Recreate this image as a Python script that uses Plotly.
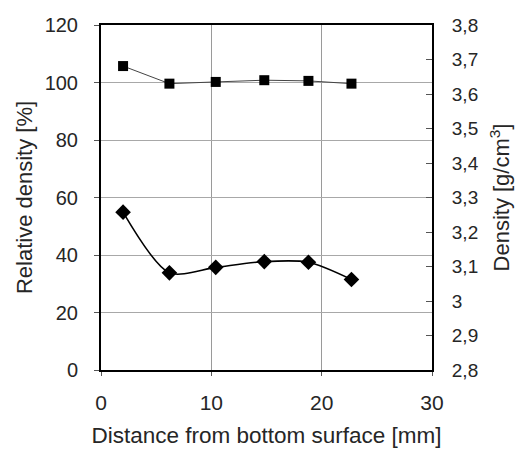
import plotly.graph_objects as go

# Data
distance_mm = [2, 6.2, 10.4, 14.8, 18.8, 22.7]
relative_density = [54.9, 33.8, 35.7, 37.7, 37.5, 31.5]
density_g_cm3 = [3.681, 3.630, 3.635, 3.640, 3.638, 3.630]

x_ticks = [0, 10, 20, 30]
left_ticks = [0, 20, 40, 60, 80, 100, 120]
right_tickvals = [2.8, 2.9, 3.0, 3.1, 3.2, 3.3, 3.4, 3.5, 3.6, 3.7, 3.8]
right_ticktext = ["2,8", "2,9", "3", "3,1", "3,2", "3,3", "3,4", "3,5", "3,6", "3,7", "3,8"]

FONT = "Liberation Sans, Arial, sans-serif"
TXT = "#262626"

fig = go.Figure()
fig.add_trace(go.Scatter(
    x=distance_mm, y=relative_density, mode="lines+markers",
    line=dict(color="black", width=1.6, shape="spline", smoothing=0.8),
    marker=dict(symbol="diamond", size=12, color="black"),
    yaxis="y", showlegend=False))
fig.add_trace(go.Scatter(
    x=distance_mm, y=density_g_cm3, mode="lines+markers",
    line=dict(color="#444444", width=1),
    marker=dict(symbol="square", size=10, color="black"),
    yaxis="y2", showlegend=False))

fig.update_layout(
    width=515, height=454,
    margin=dict(l=101, r=83, t=25, b=84, autoexpand=False),
    paper_bgcolor="white", plot_bgcolor="white",
    font=dict(family=FONT, size=20, color=TXT),
    xaxis=dict(range=[0, 30], tickvals=x_ticks, showgrid=True, gridcolor="#9a9a9a", gridwidth=1,
               showline=True, linecolor="black", linewidth=2, mirror=True,
               ticks="outside", ticklen=4, tickcolor="#555", zeroline=False,
               ticklabelstandoff=9, automargin=False,
               title=dict(text="Distance from bottom surface [mm]", font=dict(size=22.5), standoff=14),
               tickfont=dict(size=21)),
    yaxis=dict(range=[0, 120], tickvals=left_ticks, showgrid=True, gridcolor="#a8a8a8", gridwidth=1,
               showline=True, linecolor="black", linewidth=2,
               ticks="outside", ticklen=5, tickcolor="#555", zeroline=False,
               ticklabelstandoff=12, automargin=False,
               title=dict(text="Relative density [%]", font=dict(size=22), standoff=6),
               tickfont=dict(size=20)),
    yaxis2=dict(range=[2.8, 3.8], overlaying="y", side="right", tickvals=right_tickvals,
                ticktext=right_ticktext, showgrid=False,
                showline=True, linecolor="black", linewidth=2,
                ticks="inside", ticklen=6, tickcolor="#555", zeroline=False,
                ticklabelstandoff=14, automargin=False,
                title=dict(text="Density [g/cm<sup>3</sup>]", font=dict(size=22), standoff=16),
                tickfont=dict(size=19)),
)

fig.write_html("out.html", config={"displayModeBar": False},
               post_script="document.body.style.margin='0';document.body.style.overflow='hidden';")
